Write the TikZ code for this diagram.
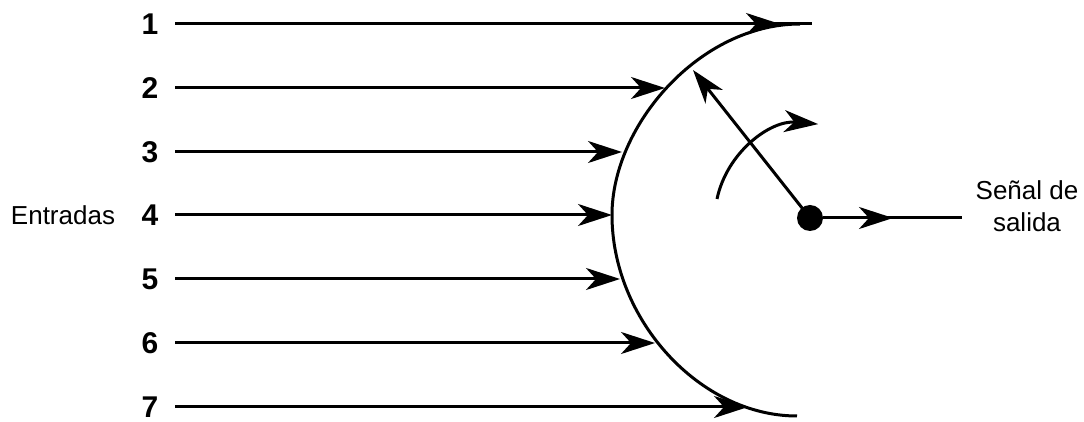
\documentclass[tikz,border=0pt]{standalone}
\usepackage{fontspec}
\setmainfont{Liberation Sans}
\usetikzlibrary{arrows.meta}

\begin{document}
\begin{tikzpicture}[
	x=0.5pt, y=-0.5pt,
	num/.style={font=\fontsize{15}{17}\selectfont\bfseries, inner sep=0pt},
	rotulo/.style={font=\fontsize{13}{16}\selectfont, inner sep=0pt, align=center},
	fio/.style={line width=1.5pt},
	seta/.style={fio, -{Stealth[length=17pt, width=11pt, inset=5pt]}}
	]
	\useasboundingbox (0,0) rectangle (1084,422);

	% entradas
	\coordinate (f1) at (812,24);
	\draw[fio] (175,24) -- (f1);
	\foreach \i/\y/\x in {1/24/780, 2/88/665, 3/152/622, 4/215/612, 5/279/620, 6/343/655, 7/407/748} {
		\node[num] (n\i) at (150,\y) {\i};
		\coordinate (t\i) at (\x,\y);
		\draw[seta] (175,\y) -- (t\i);
	}

	% soma
	\draw[fio] (800,24) .. controls (700,24) and (612,125) .. (612,215)
		.. controls (612,320) and (700,416) .. (797,416);

	\node[rotulo] (ent) at (63,215) {Entradas};

	% saida
	\node[circle, fill, minimum size=13pt, inner sep=0pt] (eixo) at (810,218) {};
	\coordinate (ponta) at (693,70);
	\draw[seta] (eixo.center) -- (ponta);
	\coordinate (g0) at (717,199);
	\draw[seta] (g0) arc[start angle=168, end angle=85, radius=47.5pt];

	\coordinate (o1) at (893,218);
	\coordinate (o2) at (962,218);
	\draw[fio] (eixo) -- (o2);
	\draw[seta] (eixo) -- (o1);
	\node[rotulo] (sai) at (1027,206) {Señal de\\salida};
\end{tikzpicture}
\end{document}
